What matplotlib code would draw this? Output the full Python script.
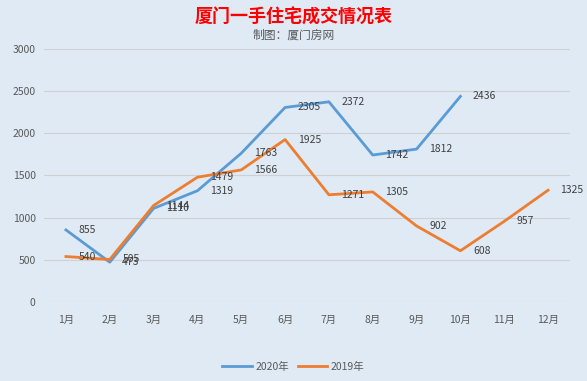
import matplotlib.pyplot as plt
import numpy as np

plt.rcParams['font.family'] = ['Noto Sans CJK SC', 'DejaVu Sans']

months = ['1月', '2月', '3月', '4月', '5月', '6月', '7月', '8月', '9月', '10月', '11月', '12月']
sales_2020 = [855, 473, 1110, 1319, 1763, 2305, 2372, 1742, 1812, 2436]
sales_2019 = [540, 505, 1144, 1479, 1566, 1925, 1271, 1305, 902, 608, 957, 1325]

bg = '#dfeaf5'
blue = '#5b9bd5'
orange = '#ed7d31'

fig = plt.figure(figsize=(5.87, 3.81), dpi=100, facecolor=bg)
ax = fig.add_axes([0.075, 0.207, 0.896, 0.665])
ax.set_facecolor(bg)

x20 = np.arange(len(sales_2020))
x19 = np.arange(len(sales_2019))
ax.plot(x20, sales_2020, color=blue, linewidth=2.0, label='2020年', solid_joinstyle='round')
ax.plot(x19, sales_2019, color=orange, linewidth=2.0, label='2019年', solid_joinstyle='round')

for xs, ys in [(x20, sales_2020), (x19, sales_2019)]:
    for xi, yi in zip(xs, ys):
        ax.annotate(str(yi), (xi, yi), xytext=(9, 0), textcoords='offset points',
                    ha='left', va='center', fontsize=7.5, color='#404040')

ax.set_xlim(-0.5, 11.5)
ax.set_ylim(0, 3000)
ax.set_yticks(range(0, 3001, 500))
ax.set_xticks(x19)
ax.set_xticklabels(months)
ax.grid(axis='y', color='#d0d0d0', linewidth=0.8)
ax.set_axisbelow(True)
for s in ax.spines.values():
    s.set_visible(False)
ax.tick_params(axis='both', length=0, labelsize=7.5, labelcolor='#595959')
ax.tick_params(axis='x', pad=9)
ax.tick_params(axis='y', pad=6)

fig.text(0.5, 0.955, '厦门一手住宅成交情况表', ha='center', va='center',
         fontsize=13, fontweight='bold', color='#ff0000')
fig.text(0.5, 0.908, '制图：厦门房网', ha='center', va='center',
         fontsize=8.5, color='#595959')

fig.legend(loc='lower center', bbox_to_anchor=(0.5, 0.0), ncol=2, frameon=False,
           fontsize=7.5, handlelength=2.8, columnspacing=0.8, handletextpad=0.4,
           labelcolor='#595959')

fig.savefig('out.png', dpi=100, facecolor=bg)
